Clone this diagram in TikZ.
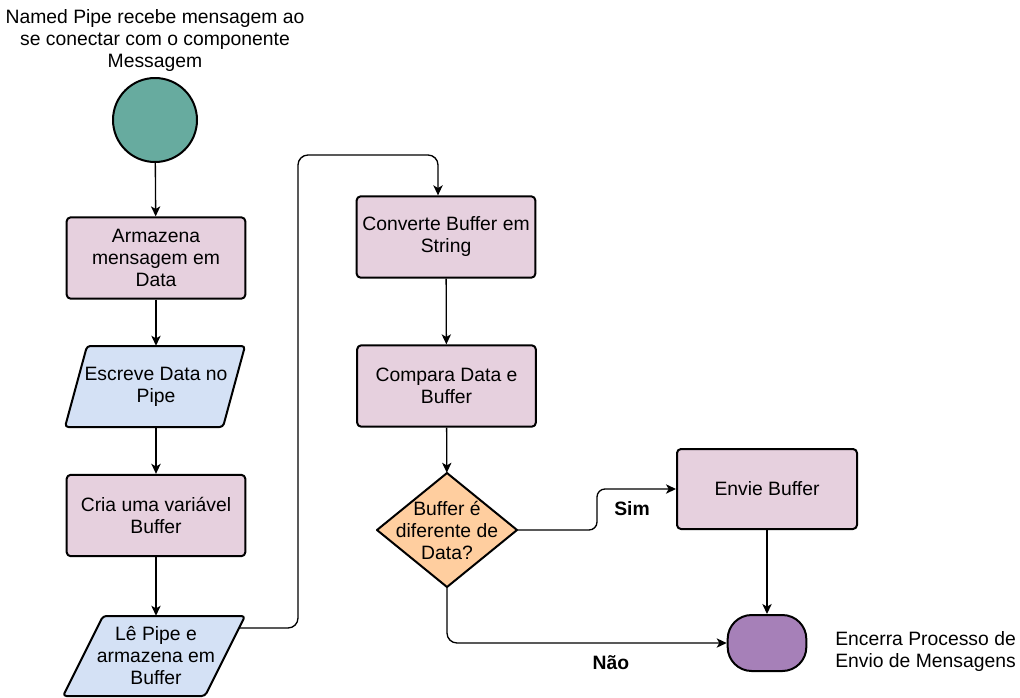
\documentclass[tikz,border=0pt]{standalone}
\usepackage{fontspec}
\setmainfont{Liberation Sans}
\usetikzlibrary{arrows.meta,calc}

\definecolor{startfill}{HTML}{67AB9F}
\definecolor{procfill}{HTML}{E6D0DE}
\definecolor{iofill}{HTML}{D4E1F5}
\definecolor{decfill}{HTML}{FFCE9F}
\definecolor{endfill}{HTML}{A680B8}

\begin{document}
\begin{tikzpicture}[x=0.75pt,y=-0.75pt,
  every node/.style={font=\fontsize{14.5}{16.5}\selectfont, text=black, align=center, inner sep=0pt},
  lbl/.style={font=\fontsize{14.5}{16.5}\selectfont\bfseries},
  outline/.style={draw, line width=1.5pt, line join=round},
  proc/.style={outline, fill=procfill, rounded corners=3pt,
    minimum width=134pt, minimum height=61pt},
  iobox/.style={outline, fill=iofill, rounded corners=2.5pt},
  decbox/.style={outline, fill=decfill},
  flow/.style={draw, line width=1pt, -{Stealth[length=7.5pt,width=7pt,inset=2pt]}},
]
\useasboundingbox (0,0) rectangle (1020,697);

% start event and its caption
\node (title) at (155,40) {Named Pipe recebe mensagem ao\\se conectar com o componente\\Messagem};
\node[circle, outline, fill=startfill, minimum size=63pt] (start) at (155,120) {};

% left column
\node[proc] (store) at (156,258) {Armazena\\mensagem em\\Data};

% input/output parallelograms: outline first, text node on top
\path[iobox] (87,346) -- (245,346) -- (223,427) -- (65,427) -- cycle;
\node[minimum width=135pt, minimum height=60.75pt] (write) at (156,386.5) {Escreve Data no\\Pipe};

\node[proc] (buf) at (156,515.5) {Cria uma variável\\Buffer};

\path[iobox] (103,616) -- (245,616) -- (205,696) -- (63,696) -- cycle;
\node[minimum width=136.5pt, minimum height=60pt] (read) at (156,656) {Lê Pipe e\\armazena em\\Buffer};
\coordinate (readout) at (239,628);

% middle column
\node[proc] (conv) at (446,237) {Converte Buffer em\\String};
\node[proc] (comp) at (446.5,386) {Compara Data e\\Buffer};

% decision diamond
\path[decbox] (447,473) -- (517,530) -- (447,587) -- (377,530) -- cycle;
\node[minimum width=105pt, minimum height=85.5pt] (dec) at (447,530) {Buffer é\\diferente de\\Data?};

% right column
\node[proc, minimum width=135pt, minimum height=60pt] (send) at (767,489) {Envie Buffer};
\node[outline, fill=endfill, rounded corners=18pt,
  minimum width=59pt, minimum height=42pt] (stop) at (767,643) {};
\node[align=left, anchor=west] (stoplbl) at (835,651) {Encerra Processo de\\Envio de Mensagens};

% connectors
\coordinate (jump) at (298,155);
\coordinate (bend) at (597,530);

\draw[flow] (start) -- (store);
\draw[flow] (store) -- (write);
\draw[flow] (write) -- (buf);
\draw[flow] (buf) -- (read);
\draw[flow, rounded corners=7.5pt]
  (readout) -| (jump) -| ([xshift=-6pt]conv.north);
\draw[flow] (conv) -- (comp);
\draw[flow] (comp) -- (dec);
\draw[flow, rounded corners=6pt] (dec.east) -- (bend) |- (send.west);
\draw[flow] (send) -- (stop);
\draw[flow, rounded corners=7.5pt] (dec.south) |- (stop.west);

\node[lbl] (yes) at (632,509) {Sim};
\node[lbl] (no) at (611,663) {Não};
\end{tikzpicture}
\end{document}
